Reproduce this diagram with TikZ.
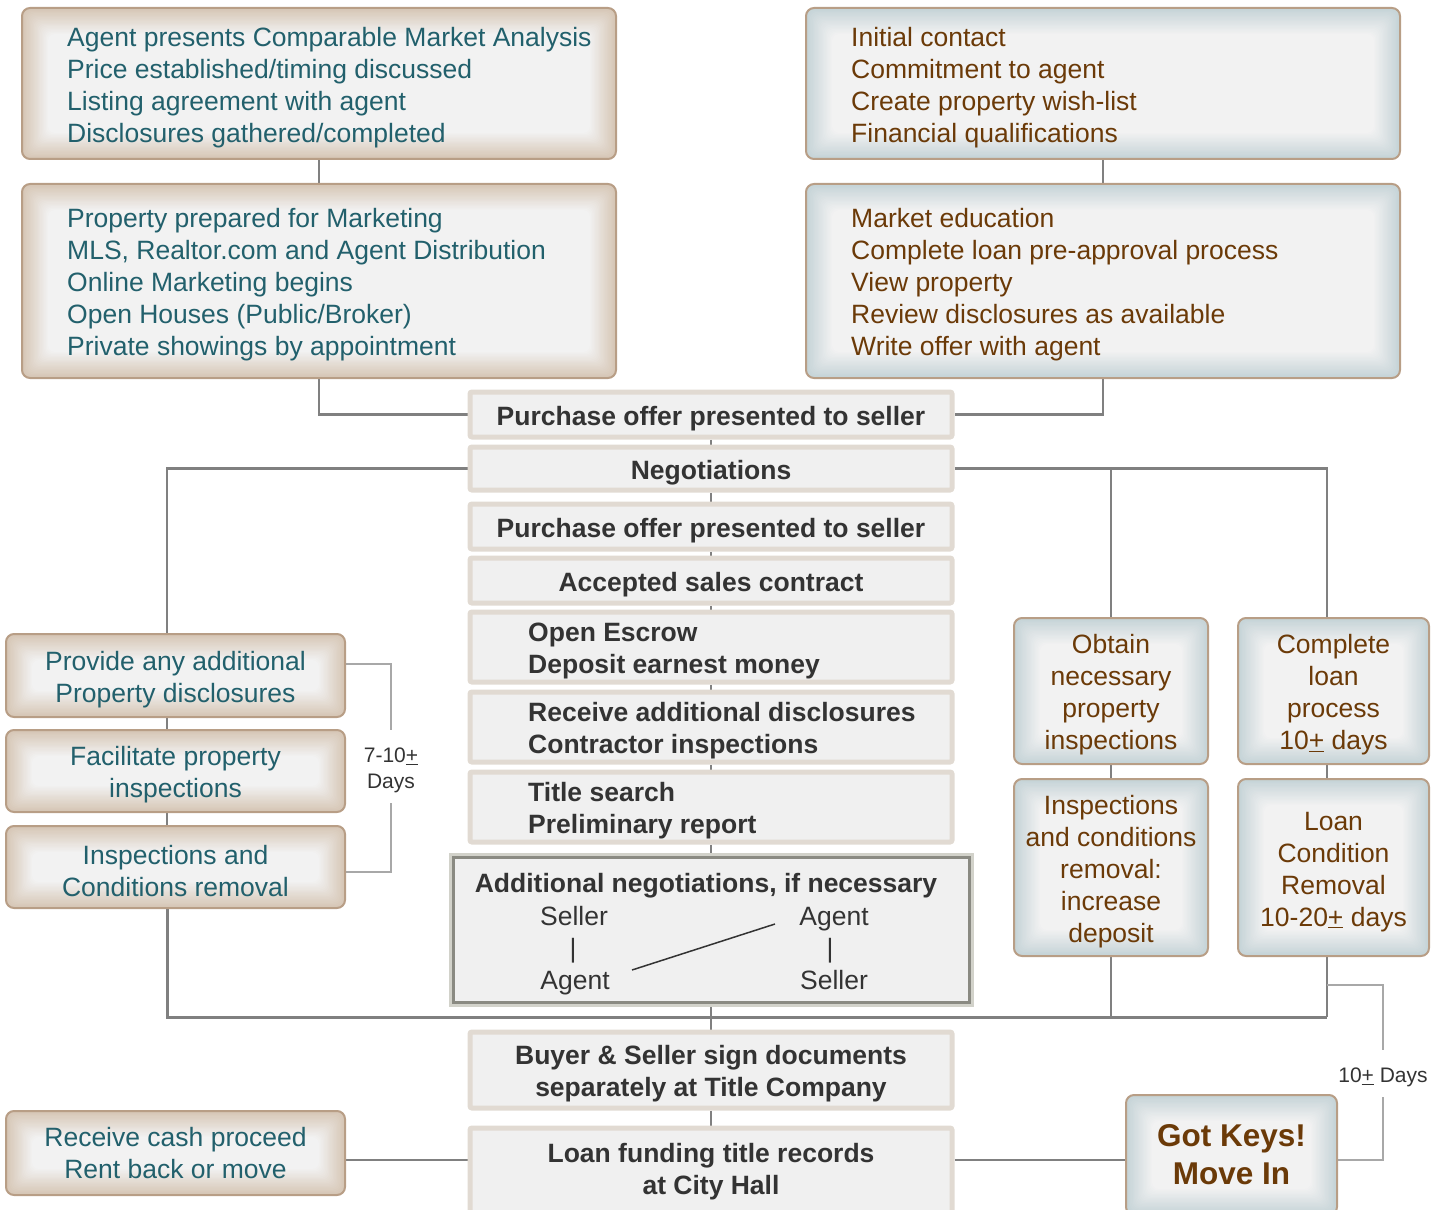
\documentclass[tikz,border=0pt]{standalone}
\usepackage{fontspec}
\setmainfont{Liberation Sans}
\usetikzlibrary{calc,backgrounds}
\definecolor{tealtxt}{HTML}{22606C}
\definecolor{browntxt}{HTML}{6B3A08}
\definecolor{tanout}{HTML}{D6C6B5}
\definecolor{blueout}{HTML}{C5D3D7}
\definecolor{boxin}{HTML}{F2F2F2}
\definecolor{boxedge}{HTML}{B89E86}
\definecolor{cfill}{HTML}{F0F0F0}
\definecolor{cedge}{HTML}{E1DAD2}
\definecolor{darktxt}{HTML}{333333}
\definecolor{connc}{HTML}{808080}
\definecolor{brkc}{HTML}{A8A8A8}
\definecolor{anedge}{HTML}{8A8A82}
\definecolor{anhalo}{HTML}{D2D2CA}
\newcommand\upst{\rule{0pt}{27pt}}
\newcommand\upsm{\rule{0pt}{23pt}}
\newcommand\framegrad[2]{%
  \foreach \i in {0,...,20}{%
    \pgfmathtruncatemacro\gp{\i*5}%
    \fill[#2!\gp!#1, rounded corners=7pt]
      ($(path picture bounding box.south west)+(\i*1.3pt,\i*1.3pt)$) rectangle
      ($(path picture bounding box.north east)-(\i*1.3pt,\i*1.3pt)$);
  }}
\tikzset{
  regfont/.style={font=\fontsize{26.5}{32}\selectfont},
  boldfont/.style={font=\bfseries\fontsize{26.5}{32}\selectfont},
  sz/.style 2 args={minimum width=#1pt, minimum height=#2pt},
  tanbox/.style={draw=boxedge, line width=2pt, rounded corners=8pt,
    path picture={\framegrad{tanout}{boxin}}, text=tealtxt, align=center, regfont, inner sep=0pt},
  bluebox/.style={draw=boxedge, line width=2pt, rounded corners=8pt,
    path picture={\framegrad{blueout}{boxin}}, text=browntxt, align=center, regfont, inner sep=0pt},
  cbox/.style={draw=cedge, line width=5pt, fill=cfill, rounded corners=2pt,
    text=darktxt, boldfont, align=center, inner sep=0pt},
  anbox/.style={draw=anedge, line width=3pt, fill=cfill,
    preaction={draw=anhalo, line width=9pt}, inner sep=0pt},
  tealt/.style={anchor=west, align=left, inner sep=0pt, text=tealtxt, regfont},
  brownt/.style={anchor=west, align=left, inner sep=0pt, text=browntxt, regfont},
  darkt/.style={anchor=west, align=left, inner sep=0pt, text=darktxt, boldfont},
  plaint/.style={anchor=base, inner sep=0pt, text=darktxt, regfont},
  conn/.style={draw=connc, line width=2.5pt},
  brk/.style={draw=brkc, line width=1.5pt},
  brklab/.style={font=\fontsize{21}{26}\selectfont, text=darktxt, inner sep=0pt, align=center}
}
\begin{document}
\begin{tikzpicture}[x=1pt,y=-1pt]
\useasboundingbox (0,0) rectangle (1431,1209);
\clip (0,0) rectangle (1431,1209);

% seller column (top left)
\node[tanbox, sz={594}{151}] (A) at (319,83.5) {};
\node[tealt] (At) at (67,87.5) {Agent presents Comparable Market Analysis\\Price established/timing discussed\\Listing agreement with agent\\Disclosures gathered/completed};
\node[tanbox, sz={594}{194}] (B) at (319,281) {};
\node[tealt] (Bt) at (67,284.5) {Property prepared for Marketing\\MLS, Realtor.com and Agent Distribution\\Online Marketing begins\\Open Houses (Public/Broker)\\Private showings by appointment};

% buyer column (top right)
\node[bluebox, sz={594}{151}] (C) at (1103,83.5) {};
\node[brownt] (Ct) at (851,87.5) {Initial contact\\Commitment to agent\\Create property wish-list\\Financial qualifications};
\node[bluebox, sz={594}{194}] (D) at (1103,281) {};
\node[brownt] (Dt) at (851,284.5) {Market education\\Complete loan pre-approval process\\View property\\Review disclosures as available\\Write offer with agent};

% centre column
\node[cbox, sz={482}{45}] (P1) at (711,414.5) {\upst Purchase offer presented to seller};
\node[cbox, sz={482}{43}] (Neg) at (711,468.5) {\upst Negotiations};
\node[cbox, sz={482}{45}] (P2) at (711,526.5) {\upst Purchase offer presented to seller};
\node[cbox, sz={482}{45}] (Acc) at (711,580.5) {\upst Accepted sales contract};
\node[cbox, sz={482}{70}] (Esc) at (711,647) {};
\node[darkt] (Esct) at (528,650.5) {Open Escrow\\Deposit earnest money};
\node[cbox, sz={482}{70}] (Rec) at (711,727) {};
\node[darkt] (Rect) at (528,730.5) {Receive additional disclosures\\Contractor inspections};
\node[cbox, sz={482}{70}] (Tit) at (711,807) {};
\node[darkt] (Titt) at (528,810.5) {Title search\\Preliminary report};

\node[anbox, sz={516}{145}] (AN) at (711,929.5) {};
\node[anchor=base, inner sep=0pt, text=darktxt, boldfont] (ANt) at (706,892.5) {Additional negotiations, if necessary};
\node[plaint] (s1) at (574,925.5) {Seller};
\node[plaint] (a1) at (834,925.5) {Agent};
\node[plaint] (b1) at (573,957) {|};
\node[plaint] (b2) at (830,957) {|};
\node[plaint] (a2) at (575,989.5) {Agent};
\node[plaint] (s2) at (834,989.5) {Seller};
\coordinate (d1) at (632,970);
\coordinate (d2) at (775,924);
\draw[draw=darktxt, line width=1.5pt] (d1) -- (d2);

\node[cbox, sz={482}{76}] (Buy) at (711,1070) {\upst Buyer \& Seller sign documents\\separately at Title Company};
\node[cbox, sz={482}{87}] (Loan) at (711,1171.5) {Loan funding title records\\at City Hall};

% left side boxes
\node[tanbox, sz={339}{83}] (Prov) at (175.5,675.5) {\upst Provide any additional\\Property disclosures};
\node[tanbox, sz={339}{82}] (Fac) at (175.5,771) {\upst Facilitate property\\inspections};
\node[tanbox, sz={339}{82}] (Insp) at (175.5,867) {\upst Inspections and\\Conditions removal};
\node[tanbox, sz={339}{84}] (Cash) at (175.5,1153) {Receive cash proceed\\Rent back or move};

% right side boxes
\node[bluebox, sz={194}{146}] (Obt) at (1111,691) {\upst Obtain\\necessary\\property\\inspections};
\node[bluebox, sz={194}{177}] (InsR) at (1111,867.5) {\upst Inspections\\and conditions\\removal:\\increase\\deposit};
\node[bluebox, sz={191}{146}] (Comp) at (1333.5,691) {\upst Complete\\loan\\process\\10\underline{+} days};
\node[bluebox, sz={191}{177}] (LoanC) at (1333.5,867.5) {\upst Loan\\Condition\\Removal\\10-20\underline{+} days};
\node[bluebox, sz={211}{120}, font=\bfseries\fontsize{31.5}{38}\selectfont] (Keys) at (1231.5,1155) {Got Keys!\\Move In};

% bracket labels
\node[brklab, minimum height=73pt] (L7) at (391,766.5) {\upsm 7-10\underline{+}\\Days};
\node[brklab, minimum height=47pt] (R10) at (1383,1073.5) {\upsm 10\underline{+} Days};

% helper coordinates
\coordinate (lc) at (167,0);
\coordinate (rc) at (1327,0);
\coordinate (hb) at (1327,1017);
\coordinate (ly) at (0,1160);
\coordinate (rb) at (1327,985);

\begin{pgfonlayer}{background}
  \draw[conn] (A.south) -- (B.north);
  \draw[conn] (C.south) -- (D.north);
  \draw[conn] (B.south) |- (P1.west);
  \draw[conn] (D.south) |- (P1.east);
  \draw[conn] (P1.south) -- (Neg.north);
  \draw[conn] (Neg.south) -- (P2.north);
  \draw[conn] (P2.south) -- (Acc.north);
  \draw[conn] (Acc.south) -- (Esc.north);
  \draw[conn] (Esc.south) -- (Rec.north);
  \draw[conn] (Rec.south) -- (Tit.north);
  \draw[conn] (Tit.south) -- (AN.north);
  \draw[conn] (AN.south) -- (Buy.north);
  \draw[conn] (Buy.south) -- (Loan.north);
  \draw[conn] (Neg.west) -| (Prov.north -| lc);
  \draw[conn] (Prov.south -| lc) -- (Fac.north -| lc);
  \draw[conn] (Fac.south -| lc) -- (Insp.north -| lc);
  \draw[conn, line width=3pt] (Insp.south -| lc) |- (hb);
  \draw[conn] (Neg.east) -| (Comp.north -| rc);
  \draw[conn] (Obt.north) -- (Obt.north |- Neg.east);
  \draw[conn] (Obt.south) -- (InsR.north);
  \draw[conn] (Comp.south -| rc) -- (LoanC.north -| rc);
  \draw[conn] (InsR.south) -- (InsR.south |- hb);
  \draw[conn] (LoanC.south -| rc) -- (hb);
  \draw[conn] (Cash.east |- ly) -- (Loan.west |- ly);
  \draw[conn] (Loan.east |- ly) -- (Keys.west |- ly);
  \draw[brk] ($(Prov.east)+(0,-11.5)$) -| (L7.north);
  \draw[brk] ($(Insp.east)+(0,5)$) -| (L7.south);
  \draw[brk] (rb) -| (R10.north);
  \draw[brk] ($(Keys.east)+(0,5)$) -| (R10.south);
\end{pgfonlayer}
\end{tikzpicture}
\end{document}
